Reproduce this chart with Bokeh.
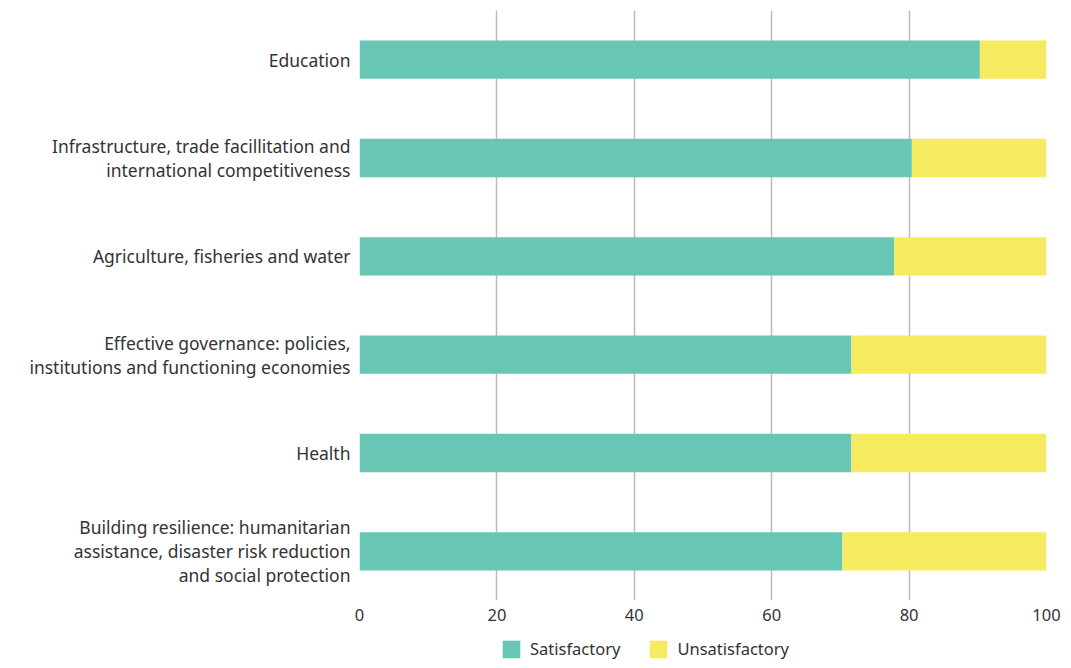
from bokeh.plotting import figure
from bokeh.layouts import column
from bokeh.models import ColumnDataSource, FactorRange, Range1d, Legend, LegendItem, FixedTicker
from bokeh.embed import file_html
from bokeh.resources import INLINE

categories = [
    "Education",
    "Infrastructure, trade facillitation and\ninternational competitiveness",
    "Agriculture, fisheries and water",
    "Effective governance: policies,\ninstitutions and functioning economies",
    "Health",
    "Building resilience: humanitarian\nassistance, disaster risk reduction\nand social protection",
]
satisfactory = [90.3, 80.4, 77.8, 71.6, 71.6, 70.3]
unsatisfactory = [9.7, 19.6, 22.2, 28.4, 28.4, 29.7]
series = ["Satisfactory", "Unsatisfactory"]
colors = ["#68C6B5", "#F6EA60"]
x_ticks = [0, 20, 40, 60, 80, 100]

FONT = "Noto Sans"
TEXT = "#333333"

source = ColumnDataSource(dict(cat=categories, Satisfactory=satisfactory, Unsatisfactory=unsatisfactory))

p = figure(
    width=1063, height=630,
    y_range=FactorRange(factors=list(reversed(categories))),
    x_range=Range1d(0, 100),
    output_backend="svg", toolbar_location=None,
    min_border_left=359, min_border_right=17, min_border_top=10, min_border_bottom=30,
)

p.hbar_stack(series, y="cat", height=0.39, color=colors, source=source, line_color=None)

p.outline_line_color = None
p.ygrid.grid_line_color = None
p.xgrid.grid_line_color = "#bbbbbb"
p.xgrid.grid_line_width = 1.5
p.xaxis.ticker = FixedTicker(ticks=x_ticks)
p.xaxis.axis_line_color = None
p.xaxis.major_tick_line_color = None
p.xaxis.minor_tick_line_color = None
p.xaxis.major_tick_out = 0
p.xaxis.major_tick_in = 0
p.xaxis.major_label_standoff = 8
p.xaxis.major_label_text_font = FONT
p.xaxis.major_label_text_font_size = "16.5px"
p.xaxis.major_label_text_color = TEXT

p.yaxis.axis_line_color = None
p.yaxis.major_tick_line_color = None
p.yaxis.minor_tick_line_color = None
p.yaxis.major_tick_out = 0
p.yaxis.major_tick_in = 0
p.yaxis.major_label_standoff = 9
p.yaxis.major_label_text_font = FONT
p.yaxis.major_label_text_font_size = "17.5px"
p.yaxis.major_label_text_line_height = 1.0
p.yaxis.major_label_text_color = TEXT

# legend strip below the chart (its frame is aligned with the chart's frame);
# the same series are attached there as zero-height bars outside the visible range
lg = figure(
    width=1063, height=30,
    x_range=Range1d(200, 201),
    y_range=FactorRange(factors=list(reversed(categories))),
    output_backend="svg", toolbar_location=None,
    min_border_left=0, min_border_right=0, min_border_top=0, min_border_bottom=0,
)
lg.axis.visible = False
lg.grid.visible = False
lg.outline_line_color = None
legend_renderers = lg.hbar_stack(series, y="cat", height=0, color=colors, source=source, line_color=None)

legend = Legend(
    items=[LegendItem(label=s, renderers=[r]) for s, r in zip(series, legend_renderers)],
    orientation="horizontal",
    location=(141, 0),
    glyph_width=22, glyph_height=22,
    label_standoff=8, spacing=27, padding=0, margin=0,
    border_line_color=None, background_fill_alpha=0,
    label_text_font=FONT, label_text_font_size="16.5px", label_text_color=TEXT,
)
lg.add_layout(legend, "center")

open("out.html", "w").write(file_html(column(p, lg, spacing=0), INLINE))
